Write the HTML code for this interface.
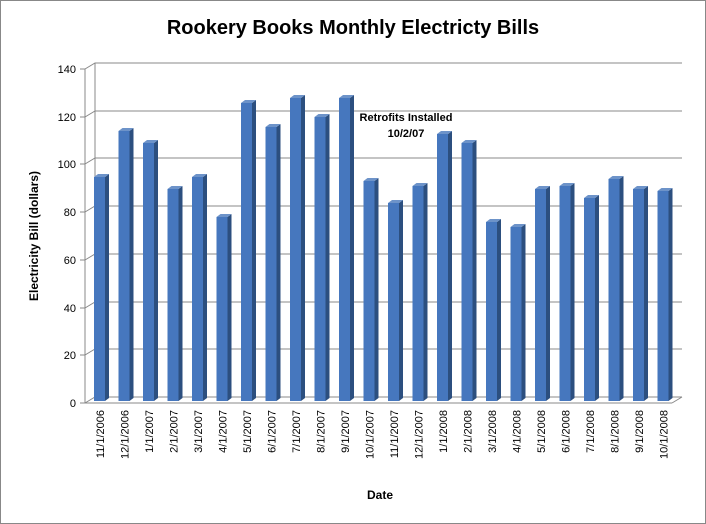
<!DOCTYPE html><html><head><style>body{margin:0;background:#fff}svg{display:block;font-family:"Liberation Sans",sans-serif}</style></head><body>
<svg width="706" height="524" viewBox="0 0 706 524">
<defs></defs>
<rect x="0.5" y="0.5" width="705" height="523" fill="#fff" stroke="#888"/>
<text x="353" y="34" text-anchor="middle" font-size="20" font-weight="bold">Rookery Books Monthly Electricty Bills</text>
<g stroke="#888" stroke-width="1" fill="none">
<polyline points="85,403 95,397 682,397"/>
<polyline points="85,69 95,63 682,63"/>
<polyline points="85,355 95,349 682,349"/>
<polyline points="85,308 95,302 682,302"/>
<polyline points="85,260 95,254 682,254"/>
<polyline points="85,212 95,206 682,206"/>
<polyline points="85,164 95,158 682,158"/>
<polyline points="85,117 95,111 682,111"/>
<line x1="85" y1="69" x2="85" y2="403"/>
<line x1="95" y1="63" x2="95" y2="397"/>
<line x1="85" y1="403" x2="672" y2="403"/><line x1="672" y1="403" x2="682" y2="397"/>
<line x1="80" y1="403" x2="85" y2="403"/><line x1="80" y1="355" x2="85" y2="355"/><line x1="80" y1="308" x2="85" y2="308"/><line x1="80" y1="260" x2="85" y2="260"/><line x1="80" y1="212" x2="85" y2="212"/><line x1="80" y1="164" x2="85" y2="164"/><line x1="80" y1="117" x2="85" y2="117"/><line x1="80" y1="69" x2="85" y2="69"/>
</g>
<g font-size="11" text-anchor="end">
<text x="76" y="407">0</text><text x="76" y="359">20</text><text x="76" y="312">40</text><text x="76" y="264">60</text><text x="76" y="216">80</text><text x="76" y="168">100</text><text x="76" y="121">120</text><text x="76" y="73">140</text>
</g>
<text transform="translate(38,236) rotate(-90)" text-anchor="middle" font-size="12" font-weight="bold">Electricity Bill (dollars)</text>
<text x="380" y="499" text-anchor="middle" font-size="12" font-weight="bold">Date</text>
<text x="406" y="121" text-anchor="middle" font-size="11" font-weight="bold">Retrofits Installed</text>
<text x="406" y="137" text-anchor="middle" font-size="11" font-weight="bold">10/2/07</text>
<g>
<g transform="translate(94,0)"><polygon points="11,177 15,174 15,398 11,401" fill="#2c4f7f"/><polygon points="0,177 4,174 15,174 11,177" fill="#6d93c9"/><rect x="0" y="177" width="11" height="224" fill="#4677be"/></g>
<g transform="translate(118.5,0)"><polygon points="11,131 15,128 15,398 11,401" fill="#2c4f7f"/><polygon points="0,131 4,128 15,128 11,131" fill="#6d93c9"/><rect x="0" y="131" width="11" height="270" fill="#4677be"/></g>
<g transform="translate(143,0)"><polygon points="11,143 15,140 15,398 11,401" fill="#2c4f7f"/><polygon points="0,143 4,140 15,140 11,143" fill="#6d93c9"/><rect x="0" y="143" width="11" height="258" fill="#4677be"/></g>
<g transform="translate(167.5,0)"><polygon points="11,189 15,186 15,398 11,401" fill="#2c4f7f"/><polygon points="0,189 4,186 15,186 11,189" fill="#6d93c9"/><rect x="0" y="189" width="11" height="212" fill="#4677be"/></g>
<g transform="translate(192,0)"><polygon points="11,177 15,174 15,398 11,401" fill="#2c4f7f"/><polygon points="0,177 4,174 15,174 11,177" fill="#6d93c9"/><rect x="0" y="177" width="11" height="224" fill="#4677be"/></g>
<g transform="translate(216.5,0)"><polygon points="11,217 15,214 15,398 11,401" fill="#2c4f7f"/><polygon points="0,217 4,214 15,214 11,217" fill="#6d93c9"/><rect x="0" y="217" width="11" height="184" fill="#4677be"/></g>
<g transform="translate(241,0)"><polygon points="11,103 15,100 15,398 11,401" fill="#2c4f7f"/><polygon points="0,103 4,100 15,100 11,103" fill="#6d93c9"/><rect x="0" y="103" width="11" height="298" fill="#4677be"/></g>
<g transform="translate(265.5,0)"><polygon points="11,127 15,124 15,398 11,401" fill="#2c4f7f"/><polygon points="0,127 4,124 15,124 11,127" fill="#6d93c9"/><rect x="0" y="127" width="11" height="274" fill="#4677be"/></g>
<g transform="translate(290,0)"><polygon points="11,98 15,95 15,398 11,401" fill="#2c4f7f"/><polygon points="0,98 4,95 15,95 11,98" fill="#6d93c9"/><rect x="0" y="98" width="11" height="303" fill="#4677be"/></g>
<g transform="translate(314.5,0)"><polygon points="11,117 15,114 15,398 11,401" fill="#2c4f7f"/><polygon points="0,117 4,114 15,114 11,117" fill="#6d93c9"/><rect x="0" y="117" width="11" height="284" fill="#4677be"/></g>
<g transform="translate(339,0)"><polygon points="11,98 15,95 15,398 11,401" fill="#2c4f7f"/><polygon points="0,98 4,95 15,95 11,98" fill="#6d93c9"/><rect x="0" y="98" width="11" height="303" fill="#4677be"/></g>
<g transform="translate(363.5,0)"><polygon points="11,181 15,178 15,398 11,401" fill="#2c4f7f"/><polygon points="0,181 4,178 15,178 11,181" fill="#6d93c9"/><rect x="0" y="181" width="11" height="220" fill="#4677be"/></g>
<g transform="translate(388,0)"><polygon points="11,203 15,200 15,398 11,401" fill="#2c4f7f"/><polygon points="0,203 4,200 15,200 11,203" fill="#6d93c9"/><rect x="0" y="203" width="11" height="198" fill="#4677be"/></g>
<g transform="translate(412.5,0)"><polygon points="11,186 15,183 15,398 11,401" fill="#2c4f7f"/><polygon points="0,186 4,183 15,183 11,186" fill="#6d93c9"/><rect x="0" y="186" width="11" height="215" fill="#4677be"/></g>
<g transform="translate(437,0)"><polygon points="11,134 15,131 15,398 11,401" fill="#2c4f7f"/><polygon points="0,134 4,131 15,131 11,134" fill="#6d93c9"/><rect x="0" y="134" width="11" height="267" fill="#4677be"/></g>
<g transform="translate(461.5,0)"><polygon points="11,143 15,140 15,398 11,401" fill="#2c4f7f"/><polygon points="0,143 4,140 15,140 11,143" fill="#6d93c9"/><rect x="0" y="143" width="11" height="258" fill="#4677be"/></g>
<g transform="translate(486,0)"><polygon points="11,222 15,219 15,398 11,401" fill="#2c4f7f"/><polygon points="0,222 4,219 15,219 11,222" fill="#6d93c9"/><rect x="0" y="222" width="11" height="179" fill="#4677be"/></g>
<g transform="translate(510.5,0)"><polygon points="11,227 15,224 15,398 11,401" fill="#2c4f7f"/><polygon points="0,227 4,224 15,224 11,227" fill="#6d93c9"/><rect x="0" y="227" width="11" height="174" fill="#4677be"/></g>
<g transform="translate(535,0)"><polygon points="11,189 15,186 15,398 11,401" fill="#2c4f7f"/><polygon points="0,189 4,186 15,186 11,189" fill="#6d93c9"/><rect x="0" y="189" width="11" height="212" fill="#4677be"/></g>
<g transform="translate(559.5,0)"><polygon points="11,186 15,183 15,398 11,401" fill="#2c4f7f"/><polygon points="0,186 4,183 15,183 11,186" fill="#6d93c9"/><rect x="0" y="186" width="11" height="215" fill="#4677be"/></g>
<g transform="translate(584,0)"><polygon points="11,198 15,195 15,398 11,401" fill="#2c4f7f"/><polygon points="0,198 4,195 15,195 11,198" fill="#6d93c9"/><rect x="0" y="198" width="11" height="203" fill="#4677be"/></g>
<g transform="translate(608.5,0)"><polygon points="11,179 15,176 15,398 11,401" fill="#2c4f7f"/><polygon points="0,179 4,176 15,176 11,179" fill="#6d93c9"/><rect x="0" y="179" width="11" height="222" fill="#4677be"/></g>
<g transform="translate(633,0)"><polygon points="11,189 15,186 15,398 11,401" fill="#2c4f7f"/><polygon points="0,189 4,186 15,186 11,189" fill="#6d93c9"/><rect x="0" y="189" width="11" height="212" fill="#4677be"/></g>
<g transform="translate(657.5,0)"><polygon points="11,191 15,188 15,398 11,401" fill="#2c4f7f"/><polygon points="0,191 4,188 15,188 11,191" fill="#6d93c9"/><rect x="0" y="191" width="11" height="210" fill="#4677be"/></g>
</g>
<g font-size="11" text-anchor="end">
<text transform="translate(104,410) rotate(-90)">11/1/2006</text>
<text transform="translate(128.5,410) rotate(-90)">12/1/2006</text>
<text transform="translate(153,410) rotate(-90)">1/1/2007</text>
<text transform="translate(177.5,410) rotate(-90)">2/1/2007</text>
<text transform="translate(202,410) rotate(-90)">3/1/2007</text>
<text transform="translate(226.5,410) rotate(-90)">4/1/2007</text>
<text transform="translate(251,410) rotate(-90)">5/1/2007</text>
<text transform="translate(275.5,410) rotate(-90)">6/1/2007</text>
<text transform="translate(300,410) rotate(-90)">7/1/2007</text>
<text transform="translate(324.5,410) rotate(-90)">8/1/2007</text>
<text transform="translate(349,410) rotate(-90)">9/1/2007</text>
<text transform="translate(373.5,410) rotate(-90)">10/1/2007</text>
<text transform="translate(398,410) rotate(-90)">11/1/2007</text>
<text transform="translate(422.5,410) rotate(-90)">12/1/2007</text>
<text transform="translate(447,410) rotate(-90)">1/1/2008</text>
<text transform="translate(471.5,410) rotate(-90)">2/1/2008</text>
<text transform="translate(496,410) rotate(-90)">3/1/2008</text>
<text transform="translate(520.5,410) rotate(-90)">4/1/2008</text>
<text transform="translate(545,410) rotate(-90)">5/1/2008</text>
<text transform="translate(569.5,410) rotate(-90)">6/1/2008</text>
<text transform="translate(594,410) rotate(-90)">7/1/2008</text>
<text transform="translate(618.5,410) rotate(-90)">8/1/2008</text>
<text transform="translate(643,410) rotate(-90)">9/1/2008</text>
<text transform="translate(667.5,410) rotate(-90)">10/1/2008</text>
</g>
</svg></body></html>
